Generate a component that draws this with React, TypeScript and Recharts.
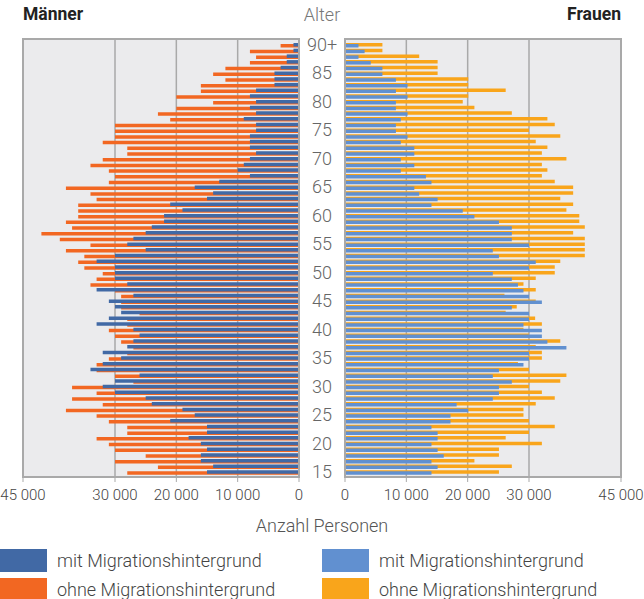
import { BarChart, Bar, XAxis, YAxis, CartesianGrid, Legend } from 'recharts';

// Altersgruppen von 15 bis 90+ (unten nach oben)
const ages = [
  '15', '16', '17', '18', '19', '20', '21', '22', '23', '24',
  '25', '26', '27', '28', '29', '30', '31', '32', '33', '34',
  '35', '36', '37', '38', '39', '40', '41', '42', '43', '44',
  '45', '46', '47', '48', '49', '50', '51', '52', '53', '54',
  '55', '56', '57', '58', '59', '60', '61', '62', '63', '64',
  '65', '66', '67', '68', '69', '70', '71', '72', '73', '74',
  '75', '76', '77', '78', '79', '80', '81', '82', '83', '84',
  '85', '86', '87', '88', '89', '90+',
];
const ageTicks = ['15', '20', '25', '30', '35', '40', '45', '50', '55', '60', '65', '70', '75', '80', '85', '90+'];
const xTicks = [0, 10000, 20000, 30000, 45000];

const menMit = [
  15000, 14000, 16000, 16000, 15000, 16000, 18000, 15000, 15000, 21000,
  17000, 19000, 24000, 25000, 30000, 32000, 30000, 26000, 34000, 32000,
  29000, 32000, 28000, 27000, 26000, 27000, 33000, 31000, 29000, 30000,
  31000, 27000, 33000, 28000, 30000, 30000, 30000, 33000, 30000, 25000,
  28000, 27000, 25000, 24000, 22000, 22000, 19000, 21000, 15000, 14000,
  17000, 13000, 8000, 10000, 9000, 8000, 7000, 8000, 8000, 8000,
  7000, 7000, 9000, 7000, 8000, 7000, 8000, 7000, 4000, 4000,
  4000, 3000, 2000, 2000, 900, 900,
];
const menOhne = [
  28000, 23000, 30000, 25000, 30000, 31000, 33000, 28000, 28000, 31000,
  33000, 38000, 32000, 37000, 33000, 37000, 27000, 30000, 33000, 33000,
  31000, 28000, 27000, 29000, 30000, 31000, 28000, 28000, 26000, 29000,
  29000, 29000, 30000, 34000, 33000, 32000, 35000, 36000, 35000, 38000,
  34000, 39000, 42000, 37000, 38000, 36000, 36000, 36000, 33000, 34000,
  38000, 31000, 30000, 31000, 34000, 32000, 28000, 28000, 32000, 30000,
  30000, 30000, 21000, 23000, 20000, 14000, 20000, 16000, 16000, 12000,
  14000, 12000, 8000, 7000, 8000, 3000,
];
const womenMit = [
  14100, 15100, 14100, 16100, 15100, 14100, 15100, 15100, 14100, 17200,
  17200, 20100, 18200, 24100, 25100, 25100, 27200, 24100, 25100, 29100,
  30000, 30000, 36100, 33000, 32100, 32100, 29100, 30000, 30000, 27200,
  32100, 30000, 29100, 28200, 27200, 24100, 30000, 31100, 25100, 24100,
  30000, 27200, 27200, 27200, 25100, 21100, 19200, 14100, 15100, 12100,
  11300, 14100, 13200, 9100, 11300, 9100, 11300, 11300, 9100, 10200,
  8300, 8300, 9100, 10200, 8300, 8300, 10200, 8300, 10200, 8300,
  6100, 6100, 4200, 2200, 3200, 2200,
];
const womenOhne = [
  25100, 27200, 21100, 25100, 25100, 32100, 26200, 30000, 34200, 30000,
  29100, 29100, 31100, 34200, 32100, 30000, 35100, 36100, 30000, 28200,
  32100, 32100, 31100, 35100, 30000, 29100, 32100, 31000, 26200, 28000,
  31100, 26000, 31100, 29100, 31100, 34200, 34200, 35100, 39100, 39100,
  39100, 39100, 37200, 39100, 38200, 38200, 36100, 37200, 35100, 37200,
  37200, 34200, 32100, 33000, 32100, 36100, 32100, 33000, 31100, 35100,
  30000, 34200, 33000, 27200, 21100, 19200, 20100, 26200, 20100, 20100,
  15100, 15100, 15100, 12100, 6100, 6100,
];

const menData = ages.map((age, i) => ({ age, mit: menMit[i], ohne: menOhne[i] }));
const womenData = ages.map((age, i) => ({ age, mit: womenMit[i], ohne: womenOhne[i] }));

const FONT = 'Roboto, "Noto Sans", sans-serif';
const GRID = '#a9a9a9';
const legendOrder = ['mit', 'ohne'];

const fmt = (v: number) =>
  v < 1000 ? String(v) : `${Math.floor(v / 1000)} ${String(v % 1000).padStart(3, '0')}`;

function AgeTick({ x, y, payload }: any) {
  return (
    <text x={x} y={y} dy={6} textAnchor="middle" fill="#666" fontSize={18} fontFamily={FONT} fontWeight={300}>
      {payload.value}
    </text>
  );
}

const renderLegend = (props: any) => {
  const items = [...(props.payload || [])].sort(
    (a: any, b: any) => legendOrder.indexOf(a.dataKey) - legendOrder.indexOf(b.dataKey)
  );
  return (
    <div>
      {items.map((item: any) => (
        <div key={item.dataKey} style={{ display: 'flex', alignItems: 'center', height: 29 }}>
          <div style={{ width: 47, height: 23, background: item.color, flexShrink: 0 }} />
          <span style={{ marginLeft: 10, fontSize: 18, lineHeight: '20px', color: '#444', fontFamily: FONT, fontWeight: 300, whiteSpace: 'nowrap' }}>
            {item.value}
          </span>
        </div>
      ))}
    </div>
  );
};

const tickStyle = { fill: '#444', fontSize: 15, fontFamily: FONT, fontWeight: 300 };

export default function App() {
  return (
    <div style={{ position: 'absolute', left: 0, top: 0, width: 644, height: 599, fontFamily: FONT, background: '#fff', overflow: 'hidden' }}>
      <div style={{ position: 'absolute', left: 23, top: 4, fontSize: 17.5, fontWeight: 700, color: '#222' }}>Männer</div>
      <div style={{ position: 'absolute', left: 272, width: 100, top: 4, fontSize: 18, color: '#777', textAlign: 'center', fontWeight: 300 }}>Alter</div>
      <div style={{ position: 'absolute', right: 23, top: 4, fontSize: 17.5, fontWeight: 700, color: '#222' }}>Frauen</div>

      <div style={{ position: 'absolute', left: 0, top: 0 }}>
        <BarChart width={345} height={599} data={menData} layout="vertical" barGap={-4.5}
          margin={{ top: 39, right: 0, bottom: 92, left: 23 }}>
          <CartesianGrid horizontal={false} stroke={GRID} strokeWidth={1.5} fill="#ebebed" />
          <XAxis type="number" domain={[0, 45000]} reversed ticks={xTicks} interval={0} tickFormatter={fmt}
            axisLine={false} tickSize={5} tickMargin={7} stroke={GRID} height={30} tick={tickStyle} />
          <YAxis type="category" dataKey="age" orientation="right" reversed width={46} ticks={ageTicks} interval={0}
            axisLine={false} tickLine={false} tickSize={0} tickMargin={23} tick={<AgeTick />} padding={{ top: 3, bottom: 2 }} />
          <Bar dataKey="ohne" name="ohne Migrationshintergrund" fill="#f26722" barSize={3.5} isAnimationActive={false} />
          <Bar dataKey="mit" name="mit Migrationshintergrund" fill="#4169a5" barSize={3.5} isAnimationActive={false} />
          <Legend layout="vertical" align="center" verticalAlign="middle" content={renderLegend}
            wrapperStyle={{ left: 0, top: 546, width: 320, height: 53 }} />
        </BarChart>
      </div>

      <div style={{ position: 'absolute', left: 322, top: 0 }}>
        <BarChart width={322} height={599} data={womenData} layout="vertical" barGap={-2.5}
          margin={{ top: 39, right: 23, bottom: 92, left: 23 }}>
          <CartesianGrid horizontal={false} stroke={GRID} strokeWidth={1.5} fill="#ebebed" />
          <XAxis type="number" domain={[0, 45000]} ticks={xTicks} interval={0} tickFormatter={fmt}
            axisLine={false} tickSize={5} tickMargin={7} stroke={GRID} height={30} tick={tickStyle} />
          <YAxis type="category" dataKey="age" reversed hide padding={{ top: 3, bottom: 2 }} />
          <Bar dataKey="ohne" name="ohne Migrationshintergrund" fill="#f9a51b" barSize={3.5} isAnimationActive={false} />
          <Bar dataKey="mit" name="mit Migrationshintergrund" fill="#6190d0" barSize={3.5} isAnimationActive={false} />
          <Legend layout="vertical" align="center" verticalAlign="middle" content={renderLegend}
            wrapperStyle={{ left: 0, top: 546, width: 322, height: 53 }} />
        </BarChart>
      </div>

      <div style={{ position: 'absolute', left: 22, top: 38, width: 278, height: 440, border: `2px solid ${GRID}`, boxSizing: 'border-box', pointerEvents: 'none' }} />
      <div style={{ position: 'absolute', left: 344, top: 38, width: 278, height: 440, border: `2px solid ${GRID}`, boxSizing: 'border-box', pointerEvents: 'none' }} />

      <div style={{ position: 'absolute', left: 222, width: 200, top: 515, fontSize: 18, color: '#555', textAlign: 'center', fontWeight: 300 }}>
        Anzahl Personen
      </div>
    </div>
  );
}
